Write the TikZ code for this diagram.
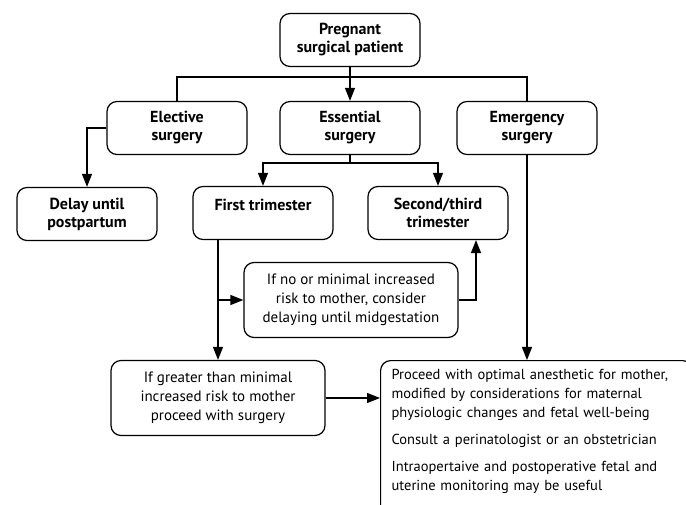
\documentclass[tikz,border=0pt]{standalone}
\usepackage{fontspec}
\setmainfont{PT Sans}
\usepackage{tikz}
\usetikzlibrary{positioning, arrows.meta, calc}

\begin{document}
\begin{tikzpicture}[x=1pt, y=-1pt, line width=1.2pt,
  boldbox/.style={draw, rounded corners=10pt, align=center, inner sep=0pt,
    minimum width=140pt, minimum height=53pt, font=\bfseries\fontsize{16}{18}\selectfont},
  lightbox/.style={draw, rounded corners=10pt, align=center, inner sep=0pt,
    minimum width=214pt, minimum height=75pt, font=\fontsize{15}{19}\selectfont},
  arr/.style={-{Triangle[length=13pt,width=10pt]}}]
\useasboundingbox (0,0) rectangle (686,505);
\clip (0,0) rectangle (686,505);

\node[boldbox](preg) at (350,40) {Pregnant\\surgical patient};
\node[boldbox](elective) at (177,128) {Elective\\surgery};
\node[boldbox](essential) at (350,128) {Essential\\surgery};
\node[boldbox](emergency) at (527,128) {Emergency\\surgery};
\node[boldbox](delay) at (87,214) {Delay until\\postpartum};
\node[boldbox](first) at (263,213) {First trimester\\[-2pt]\mbox{}};
\node[boldbox](second) at (438,213) {Second/third\\trimester};
\node[lightbox](ifno) at (351,300) {If no or minimal increased\\risk to mother, consider\\delaying until midgestation};
\node[lightbox](greater) at (218,398) {If greater than minimal\\increased risk to mother\\proceed with surgery};
\node[draw, rounded corners=10pt, anchor=north west, align=left,
  text width=290pt, inner xsep=11pt, inner ysep=9pt,
  font=\fontsize{14.5}{19}\selectfont](proceed) at (380,360)
  {Proceed with optimal anesthetic for mother,\\modified by considerations for maternal\\physiologic changes and fetal well-being\\[8pt]
   Consult a perinatologist or an obstetrician\\[8pt]
   Intraopertaive and postoperative fetal and\\uterine monitoring may be useful\\[2pt]\mbox{}};

\coordinate(bar) at (350,77);
\coordinate(split) at (350,163);
\coordinate(up) at (476,300);

\draw (elective.north) |- (bar) -| (emergency.north);
\draw[arr] (preg.south) -- (essential.north);
\draw[arr] (elective.west) -| (delay.north);
\draw (essential.south) -- (split);
\draw[arr] (split) -| (first.north);
\draw[arr] (split) -| (second.north);
\draw[arr] (greater.north |- first.south) -- (greater.north);
\draw[arr] (greater.north |- ifno.west) -- (ifno.west);
\draw[arr] (ifno.east) -- (up) -- (up |- second.south);
\draw[arr] (emergency.south) -- (emergency.south |- proceed.north);
\draw[arr] (greater.east) -- (proceed.west |- greater.east);
\end{tikzpicture}
\end{document}
